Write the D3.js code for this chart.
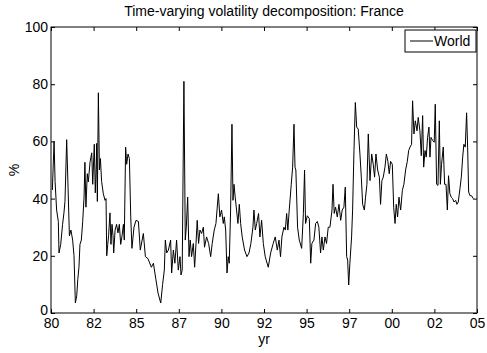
<!DOCTYPE html>
<html>
<head>
<meta charset="utf-8">
<script src="https://cdn.jsdelivr.net/npm/d3@7"></script>
<style>
  body { margin: 0; background: #fff; }
  svg { display: block; font-family: Arial, Helvetica, 'Liberation Sans', sans-serif; }
</style>
</head>
<body>
<div id="chart"></div>
<script>
// decimal year of each reading
var years = [
  1980.08, 1980.18, 1980.24, 1980.33, 1980.43, 1980.47, 1980.57, 1980.68, 1980.76, 1980.82,
  1980.92, 1981.00, 1981.08, 1981.17, 1981.27, 1981.35, 1981.43, 1981.51, 1981.57, 1981.64,
  1981.70, 1981.78, 1981.86, 1981.94, 1981.99, 1982.05, 1982.13, 1982.19, 1982.29, 1982.39,
  1982.45, 1982.54, 1982.60, 1982.66, 1982.68, 1982.72, 1982.78, 1982.84, 1982.90, 1982.97,
  1983.07, 1983.17, 1983.23, 1983.27, 1983.33, 1983.38, 1983.46, 1983.52, 1983.58, 1983.64,
  1983.68, 1983.76, 1983.85, 1983.93, 1984.01, 1984.09, 1984.17, 1984.25, 1984.30, 1984.38,
  1984.44, 1984.52, 1984.60, 1984.68, 1984.75, 1984.87, 1984.99, 1985.13, 1985.24, 1985.42,
  1985.54, 1985.69, 1985.89, 1986.01, 1986.16, 1986.28, 1986.44, 1986.55, 1986.65, 1986.71,
  1986.79, 1986.89, 1987.02, 1987.08, 1987.18, 1987.27, 1987.37, 1987.47, 1987.57, 1987.63,
  1987.70, 1987.80, 1987.88, 1987.94, 1988.02, 1988.10, 1988.17, 1988.25, 1988.35, 1988.43,
  1988.51, 1988.58, 1988.66, 1988.74, 1988.84, 1988.94, 1989.01, 1989.13, 1989.25, 1989.37,
  1989.46, 1989.58, 1989.68, 1989.82, 1989.91, 1990.01, 1990.11, 1990.17, 1990.25, 1990.33,
  1990.40, 1990.46, 1990.54, 1990.62, 1990.68, 1990.74, 1990.81, 1990.89, 1990.97, 1991.05,
  1991.13, 1991.22, 1991.36, 1991.50, 1991.62, 1991.73, 1991.85, 1991.91, 1991.99, 1992.07,
  1992.18, 1992.26, 1992.36, 1992.46, 1992.57, 1992.75, 1992.89, 1993.04, 1993.16, 1993.28,
  1993.38, 1993.47, 1993.55, 1993.67, 1993.75, 1993.83, 1993.90, 1993.98, 1994.10, 1994.18,
  1994.26, 1994.32, 1994.37, 1994.47, 1994.57, 1994.71, 1994.81, 1994.88, 1994.94, 1995.04,
  1995.16, 1995.24, 1995.31, 1995.43, 1995.53, 1995.63, 1995.72, 1995.82, 1995.90, 1995.98,
  1996.08, 1996.17, 1996.27, 1996.37, 1996.49, 1996.55, 1996.62, 1996.70, 1996.80, 1996.90,
  1997.00, 1997.09, 1997.19, 1997.27, 1997.35, 1997.41, 1997.47, 1997.54, 1997.64, 1997.70,
  1997.78, 1997.86, 1997.94, 1998.03, 1998.13, 1998.21, 1998.29, 1998.39, 1998.46, 1998.54,
  1998.62, 1998.72, 1998.82, 1998.91, 1998.99, 1999.07, 1999.17, 1999.27, 1999.34, 1999.42,
  1999.50, 1999.60, 1999.68, 1999.77, 1999.85, 1999.93, 2000.03, 2000.11, 2000.19, 2000.26,
  2000.34, 2000.42, 2000.52, 2000.62, 2000.71, 2000.81, 2000.91, 2000.99, 2001.07, 2001.16,
  2001.22, 2001.30, 2001.38, 2001.48, 2001.55, 2001.65, 2001.73, 2001.81, 2001.87, 2001.95,
  2002.02, 2002.10, 2002.18, 2002.24, 2002.30, 2002.40, 2002.49, 2002.55, 2002.63, 2002.71,
  2002.79, 2002.85, 2002.92, 2003.02, 2003.10, 2003.18, 2003.26, 2003.33, 2003.41, 2003.49,
  2003.57, 2003.65, 2003.75, 2003.82, 2003.90, 2004.00, 2004.08, 2004.16, 2004.23, 2004.31,
  2004.39, 2004.45, 2004.51, 2004.59, 2004.68, 2004.78
]

// World share of volatility, %
var world = [
  43, 60, 46, 36, 32, 21, 24, 31, 35, 39,
  60.6, 44, 27, 29, 25.5, 20, 3.5, 6, 11.6, 16,
  24, 25.5, 32, 40.5, 52.7, 37, 48.7, 45.8, 52.7, 56,
  45, 59, 42, 52, 59.3, 39, 77, 50, 54, 46,
  41.7, 39.4, 40, 20, 24, 27, 35, 24, 31, 27,
  21, 29, 31, 28, 31, 24, 27, 31, 25.5, 58,
  52, 55.6, 54, 33.6, 22.6, 30, 32.4, 32, 22, 27.8,
  19.7, 19, 16, 17.4, 11.6, 7, 3.5, 10, 15, 25.5,
  21, 22, 25.5, 14, 22, 17.4, 25.5, 15, 19.7, 13.3,
  15, 81, 25.5, 30, 40.5, 19.7, 25.5, 19.7, 24.3, 16,
  24.3, 32.4, 24.3, 29, 27.8, 30, 23, 26.6, 24.3, 19.7,
  24.3, 29, 31.3, 41.7, 33.6, 36, 31.3, 33.6, 29, 14,
  19.7, 17.4, 36, 66, 39.4, 45, 40.5, 36, 31.3, 38,
  31.3, 26.6, 22, 19.7, 21, 24.3, 30, 36, 29, 31.3,
  34.8, 26.6, 32.4, 24.3, 19.7, 16, 21, 24.3, 26.6, 22,
  25.5, 19.7, 26.6, 30, 29, 34.8, 29, 36, 45, 51,
  66, 51, 50, 30, 25.5, 22.6, 34.8, 50, 31.3, 34,
  33, 17.4, 24.3, 25.5, 31.3, 32, 30, 21, 26.6, 22,
  26.6, 24.3, 30, 30, 36, 45, 34.8, 37, 33.6, 38,
  32.4, 36, 37, 44, 19.7, 18.5, 9.8, 17.4, 26.6, 36,
  56.8, 73.6, 65, 64.3, 55.6, 47.5, 38, 36, 40.5, 45,
  62.6, 46.3, 55.6, 52, 47.5, 55.6, 50, 47.5, 38, 46.3,
  47.5, 51, 55.6, 53, 48.7, 53, 52, 37, 31.3, 38,
  33.6, 40.5, 36, 42.9, 45, 50, 53, 56.8, 58, 59,
  74.2, 62.6, 67.2, 63.7, 68.4, 63.7, 55, 69, 51, 56.8,
  54.5, 61.4, 65, 54.5, 61.4, 60.3, 59.7, 73, 45, 44.6,
  67.2, 45, 52, 58, 45, 45, 36, 48, 41.7, 40.5,
  40, 38.8, 39.4, 38, 38.8, 43.5, 47.5, 54.5, 59, 58,
  70, 58, 42.3, 41, 41, 40
]

var xTickValues = [1980, 1982.5, 1985, 1987.5, 1990, 1992.5, 1995, 1997.5, 2000, 2002.5, 2005]
var xTickLabels = ['80', '82', '85', '87', '90', '92', '95', '97', '00', '02', '05']
var yTickValues = [0, 20, 40, 60, 80, 100]

var svgWidth = 487,
  svgHeight = 353
var margin = { top: 27, right: 10, bottom: 40, left: 51 }
var width = svgWidth - margin.left - margin.right,
  height = svgHeight - margin.top - margin.bottom

var svg = d3
  .select('#chart')
  .append('svg')
  .attr('width', svgWidth)
  .attr('height', svgHeight)

var g = svg
  .append('g')
  .attr('transform', `translate(${margin.left}, ${margin.top})`)

var x = d3.scaleLinear().domain([1980, 2005]).range([0, width])
var y = d3.scaleLinear().domain([0, 100]).range([height, 0])

var fontSize = 14

// axes, ticks pointing inward on all four sides
g.append('g')
  .attr('transform', `translate(0, ${height})`)
  .call(
    d3
      .axisBottom(x)
      .tickValues(xTickValues)
      .tickFormat((d, i) => xTickLabels[i])
      .tickSizeInner(-4)
      .tickSizeOuter(0)
      .tickPadding(5),
  )
g.append('g')
  .call(d3.axisTop(x).tickValues(xTickValues).tickFormat('').tickSizeInner(-4).tickSizeOuter(0))
var yAxis = g
  .append('g')
  .call(
    d3
      .axisLeft(y)
      .tickValues(yTickValues)
      .tickSizeInner(-4)
      .tickSizeOuter(0)
      .tickPadding(3),
  )
g.append('g')
  .attr('transform', `translate(${width}, 0)`)
  .call(d3.axisRight(y).tickValues(yTickValues).tickFormat('').tickSizeInner(-4).tickSizeOuter(0))

g.selectAll('.domain').remove()
g.selectAll('.tick line').attr('stroke', '#000')
g.selectAll('.tick text')
  .attr('fill', '#000')
  .style('font-size', fontSize + 'px')
  .style('font-family', 'Arial, Helvetica, "Liberation Sans", sans-serif')

// the "0" sits just above the "80" like the original
yAxis
  .selectAll('.tick text')
  .filter(d => d === 0)
  .attr('dy', '0.12em')

// the series
var pts = years.map((yr, i) => [yr, world[i]])
g.append('path')
  .datum(pts)
  .attr('fill', 'none')
  .attr('stroke', '#000')
  .attr('stroke-width', 1)
  .attr('stroke-linejoin', 'round')
  .attr('d', d3.line().x(d => x(d[0])).y(d => y(d[1])))

// box
g.append('rect')
  .attr('x', 0)
  .attr('y', 0)
  .attr('width', width)
  .attr('height', height)
  .attr('fill', 'none')
  .attr('stroke', '#000')
  .attr('stroke-width', 1)

// legend
var legend = g.append('g').attr('transform', `translate(${width - 72}, 3)`)
legend
  .append('rect')
  .attr('width', 71)
  .attr('height', 22)
  .attr('fill', '#fff')
  .attr('stroke', '#000')
legend
  .append('line')
  .attr('x1', 5)
  .attr('x2', 28)
  .attr('y1', 11)
  .attr('y2', 11)
  .attr('stroke', '#000')
legend
  .append('text')
  .attr('x', 29)
  .attr('y', 16)
  .style('font-size', fontSize + 'px')
  .text('World')

// title and labels
svg
  .append('text')
  .attr('x', margin.left + width / 2)
  .attr('y', 16)
  .attr('text-anchor', 'middle')
  .style('font-size', fontSize + 'px')
  .text('Time-varying volatility decomposition: France')

svg
  .append('text')
  .attr('x', margin.left + width / 2)
  .attr('y', 344)
  .attr('text-anchor', 'middle')
  .style('font-size', fontSize + 'px')
  .text('yr')

svg
  .append('text')
  .attr('transform', `translate(19, ${margin.top + height / 2}) rotate(-90)`)
  .attr('text-anchor', 'middle')
  .style('font-size', fontSize + 'px')
  .text('%')
</script>
</body>
</html>
